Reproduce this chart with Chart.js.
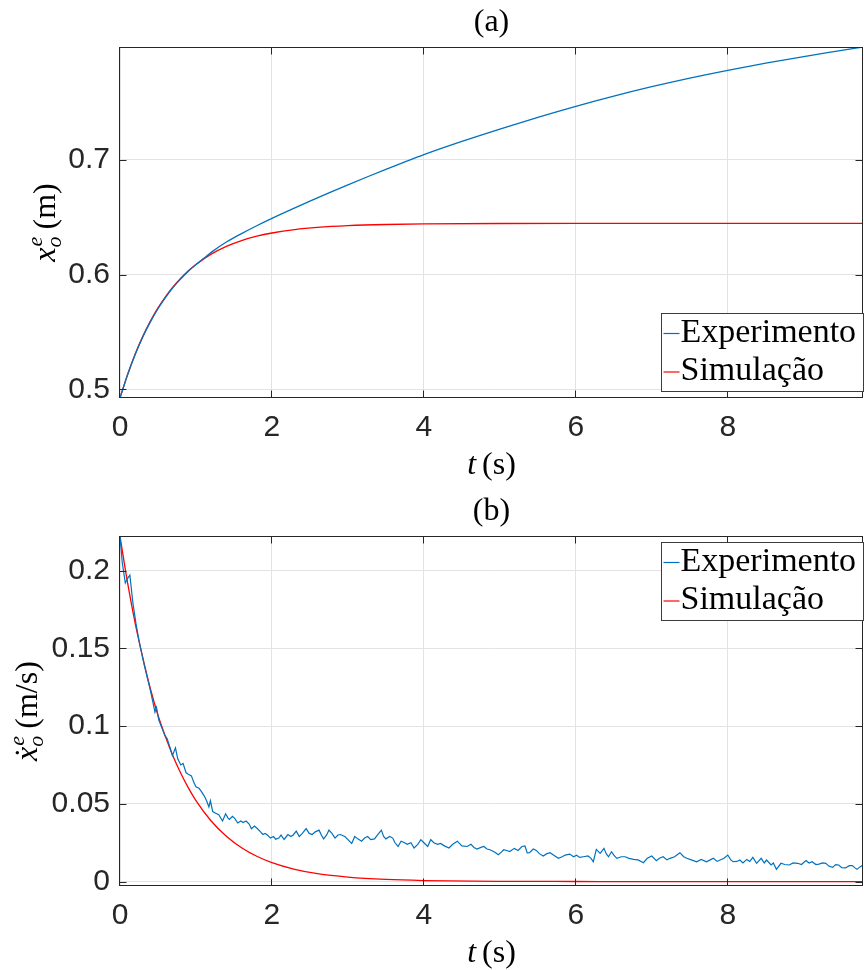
<!DOCTYPE html>
<html>
<head>
<meta charset="utf-8">
<script src="https://cdn.jsdelivr.net/npm/chart.js@4.4.1/dist/chart.umd.min.js"></script>
<style>
  html, body { margin: 0; padding: 0; background: #fff; }
  canvas { display: block; }
</style>
</head>
<body>
<canvas id="posChart" width="864" height="485"></canvas>
<canvas id="velChart" width="864" height="485"></canvas>
<script>
// ---- data ----
const seriesNames = ['Experimento', 'Simulação'];

// (a) position
const posTimeExp = [0, 0.1, 0.2, 0.3, 0.4, 0.5, 0.6, 0.7, 0.8, 0.9, 1.0, 1.1, 1.2, 1.4, 1.6, 1.8, 2.0, 2.25, 2.5, 2.75,
  3.0, 3.25, 3.5, 3.75, 4.0, 4.5, 5.0, 5.5, 6.0, 6.5, 7.0, 7.5, 8.0, 8.5, 9.0, 9.5, 9.78];
const posExp = [0.4924, 0.5127, 0.5303, 0.5456, 0.5587, 0.5702, 0.5801, 0.5888, 0.5962, 0.6029, 0.6087, 0.6140, 0.6193,
  0.6283, 0.6357, 0.6425, 0.6489, 0.6565, 0.6639, 0.6711, 0.6781, 0.6850, 0.6917, 0.6982, 0.7045, 0.7160, 0.7268,
  0.7370, 0.7466, 0.7555, 0.7637, 0.7712, 0.7780, 0.7843, 0.7900, 0.7953, 0.7983];

const simTime = [0, 0.1, 0.2, 0.3, 0.4, 0.5, 0.6, 0.7, 0.8, 0.9, 1.0, 1.2, 1.4, 1.6, 1.8, 2.0, 2.3, 2.6, 3.0, 3.5,
  4.0, 5.0, 6.0, 7.0, 8.0, 9.0, 9.78];
const posSim = [0.4924, 0.5129, 0.5308, 0.5461, 0.5594, 0.5709, 0.5808, 0.5894, 0.5968, 0.6033, 0.6088, 0.6178, 0.6246,
  0.6296, 0.6334, 0.6362, 0.6392, 0.6411, 0.6426, 0.6436, 0.6441, 0.6445, 0.6446, 0.6446, 0.6446, 0.6446, 0.6446];

// (b) velocity
const velTimeExp = [0.00, 0.03, 0.07, 0.10, 0.13, 0.17, 0.21, 0.25, 0.28, 0.32, 0.36, 0.40, 0.43, 0.46, 0.48, 0.51,
  0.55, 0.59, 0.62, 0.66, 0.69, 0.73, 0.76, 0.80, 0.83, 0.87, 0.90, 0.94, 0.97, 1.00, 1.04, 1.07, 1.11, 1.14, 1.17,
  1.19, 1.22, 1.26, 1.30, 1.35, 1.39, 1.42, 1.44, 1.48, 1.51, 1.55, 1.59, 1.62, 1.66, 1.70, 1.73, 1.77, 1.81, 1.85,
  1.88, 1.91, 1.94, 1.98, 2.02, 2.05, 2.09, 2.12, 2.16, 2.21, 2.25, 2.28, 2.32, 2.36, 2.40, 2.45, 2.49, 2.53, 2.57,
  2.62, 2.65, 2.68, 2.72, 2.75, 2.79, 2.83, 2.87, 2.90, 2.96, 3.00, 3.05, 3.09, 3.13, 3.18, 3.22, 3.26, 3.30, 3.35,
  3.39, 3.44, 3.47, 3.50, 3.55, 3.59, 3.62, 3.66, 3.70, 3.74, 3.78, 3.83, 3.87, 3.92, 3.96, 4.00, 4.05, 4.09, 4.13,
  4.18, 4.22, 4.27, 4.33, 4.38, 4.44, 4.50, 4.57, 4.62, 4.66, 4.70, 4.75, 4.79, 4.83, 4.87, 4.93, 4.98, 5.02, 5.05,
  5.09, 5.13, 5.19, 5.24, 5.29, 5.33, 5.36, 5.39, 5.44, 5.48, 5.52, 5.57, 5.62, 5.66, 5.71, 5.77, 5.82, 5.86, 5.92,
  5.97, 6.01, 6.05, 6.10, 6.16, 6.20, 6.23, 6.27, 6.32, 6.37, 6.40, 6.43, 6.47, 6.50, 6.54, 6.60, 6.65, 6.70, 6.76,
  6.82, 6.89, 6.94, 7.00, 7.06, 7.10, 7.15, 7.20, 7.24, 7.30, 7.37, 7.42, 7.46, 7.52, 7.59, 7.65, 7.72, 7.77, 7.81,
  7.86, 7.90, 7.95, 8.00, 8.04, 8.07, 8.12, 8.16, 8.20, 8.25, 8.29, 8.33, 8.38, 8.44, 8.48, 8.51, 8.57, 8.60, 8.64,
  8.70, 8.75, 8.81, 8.86, 8.92, 8.97, 9.03, 9.07, 9.11, 9.16, 9.20, 9.25, 9.29, 9.33, 9.38, 9.42, 9.46, 9.50, 9.55,
  9.60, 9.64, 9.67, 9.70, 9.74, 9.78];
const velExp = [0.222, 0.205, 0.192, 0.195, 0.197, 0.179, 0.166, 0.155, 0.148, 0.139, 0.131, 0.123, 0.116, 0.109, 0.112, 0.104,
  0.099, 0.094, 0.092, 0.086, 0.081, 0.086, 0.079, 0.075, 0.076, 0.070, 0.069, 0.068, 0.064, 0.061, 0.060, 0.058, 0.055, 0.052, 0.048,
  0.052, 0.045, 0.044, 0.043, 0.039, 0.0436, 0.041, 0.040, 0.042, 0.0407, 0.0377, 0.039, 0.038, 0.039, 0.037, 0.034, 0.0357, 0.034, 0.032,
  0.0303, 0.031, 0.030, 0.028, 0.029, 0.0273, 0.028, 0.0299, 0.0271, 0.0303, 0.029, 0.030, 0.0325, 0.029, 0.031, 0.0341, 0.031, 0.0303, 0.032,
  0.0331, 0.030, 0.0275, 0.030, 0.0331, 0.031, 0.028, 0.030, 0.0303, 0.029, 0.027, 0.0246, 0.029, 0.0275, 0.026, 0.028, 0.029, 0.027, 0.0275,
  0.030, 0.0331, 0.029, 0.0275, 0.029, 0.028, 0.025, 0.0226, 0.026, 0.0252, 0.024, 0.025, 0.0216, 0.024, 0.027, 0.025, 0.0226, 0.027, 0.025,
  0.024, 0.0246, 0.023, 0.0216, 0.024, 0.026, 0.023, 0.0226, 0.024, 0.022, 0.021, 0.022, 0.0226, 0.021, 0.0205, 0.019, 0.0173, 0.019, 0.0205,
  0.020, 0.0194, 0.0214, 0.020, 0.0226, 0.0229, 0.0185, 0.0186, 0.021, 0.0201, 0.018, 0.0165, 0.018, 0.0186, 0.017, 0.0150, 0.016, 0.0171, 0.0177,
  0.016, 0.017, 0.0156, 0.016, 0.0165, 0.015, 0.0128, 0.0207, 0.0182, 0.0214, 0.018, 0.0160, 0.0192, 0.017, 0.015, 0.016, 0.0160, 0.015, 0.0143,
  0.014, 0.0122, 0.015, 0.0165, 0.0135, 0.015, 0.0160, 0.014, 0.015, 0.016, 0.0186, 0.016, 0.015, 0.014, 0.0128, 0.0143, 0.0128, 0.014, 0.0150,
  0.013, 0.0139, 0.015, 0.0171, 0.014, 0.0128, 0.013, 0.0139, 0.012, 0.0143, 0.013, 0.0156, 0.0118, 0.0150, 0.012, 0.0139, 0.0107, 0.012, 0.0079,
  0.0118, 0.011, 0.0107, 0.012, 0.0118, 0.011, 0.0135, 0.012, 0.0128, 0.011, 0.0113, 0.012, 0.0118, 0.010, 0.0092, 0.011, 0.0107, 0.009, 0.0088,
  0.0103, 0.0103, 0.0090, 0.0079, 0.0095, 0.0107];
const velSim = [0.222, 0.192, 0.166, 0.144, 0.124, 0.107, 0.093, 0.0805, 0.0697, 0.0603, 0.0521, 0.0390, 0.0292, 0.0218,
  0.0163, 0.0122, 0.0079, 0.0051, 0.0029, 0.0014, 0.0007, 0.0002, 0.0001, 0, 0, 0, 0];

// ticks
const timeTicks = [0, 2, 4, 6, 8];
const timeTickLabels = ['0', '2', '4', '6', '8'];
const posTicks = [0.5, 0.6, 0.7];
const posTickLabels = ['0.5', '0.6', '0.7'];
const velTicks = [0, 0.05, 0.1, 0.15, 0.2];
const velTickLabels = ['0', '0.05', '0.1', '0.15', '0.2'];

const BLUE = '#0072BD';
const RED = '#FF0000';
const AXIS = '#262626';
const SERIF = '"Liberation Serif", "Times New Roman", serif';

function pts(xs, ys) {
  return xs.map((x, i) => ({ x: x, y: ys[i] }));
}

// draws the y label  x_o^e (unit), rotated
function drawYLabel(ctx, a, baseX, dotted, unit) {
  const big = '32px ' + SERIF, bigIt = 'italic 32px ' + SERIF, small = 'italic 22px ' + SERIF;
  ctx.font = bigIt; const wx = ctx.measureText('x').width;
  ctx.font = small; const ws = Math.max(ctx.measureText('e').width, ctx.measureText('o').width);
  ctx.font = big; const wu = ctx.measureText(unit).width;
  const gap = 7;
  const total = wx + ws + gap + wu;
  ctx.save();
  ctx.translate(baseX, (a.top + a.bottom) / 2);
  ctx.rotate(-Math.PI / 2);
  ctx.fillStyle = '#000';
  ctx.textBaseline = 'alphabetic';
  ctx.textAlign = 'left';
  const s = -total / 2;
  ctx.font = bigIt; ctx.fillText('x', s, 0);
  if (dotted) {
    ctx.font = big; ctx.textAlign = 'center';
    ctx.fillText('\u02D9', s + wx / 2 + 1, 0);
    ctx.textAlign = 'left';
  }
  ctx.font = small;
  ctx.fillText('e', s + wx + 1, -13);
  ctx.fillText('o', s + wx, 6);
  ctx.font = big; ctx.fillText(unit, s + wx + ws + gap, 0);
  ctx.restore();
}

// MATLAB-like box, inward ticks, titles and the in-axes legend
const matlabFrame = {
  id: 'matlabFrame',
  afterDraw(chart, args, o) {
    const ctx = chart.ctx, a = chart.chartArea;
    const xs = chart.scales.x, ys = chart.scales.y;
    const L = a.left - 0.5, R = a.right - 0.5, T = a.top + 0.5, B = a.bottom - 0.5;
    const tl = 7;
    ctx.save();
    ctx.strokeStyle = AXIS;
    ctx.lineWidth = 1;
    ctx.beginPath();
    xs.ticks.forEach(t => {
      const px = Math.round(xs.getPixelForValue(t.value)) - 0.5;
      ctx.moveTo(px, B); ctx.lineTo(px, B - tl);
      ctx.moveTo(px, T); ctx.lineTo(px, T + tl);
    });
    ys.ticks.forEach(t => {
      const py = Math.round(ys.getPixelForValue(t.value)) + 0.5;
      ctx.moveTo(L, py); ctx.lineTo(L + tl, py);
      ctx.moveTo(R, py); ctx.lineTo(R - tl, py);
    });
    ctx.stroke();
    ctx.strokeRect(L, T, R - L, B - T);

    // title and x label
    const cx = (a.left + a.right) / 2;
    ctx.fillStyle = '#000';
    ctx.textBaseline = 'alphabetic';
    ctx.textAlign = 'center';
    ctx.font = '32px ' + SERIF;
    ctx.fillText(o.title, cx, a.top - 16);

    ctx.textAlign = 'left';
    ctx.font = 'italic 32px ' + SERIF;
    const wt = ctx.measureText('t').width;
    ctx.font = '32px ' + SERIF;
    const wu = ctx.measureText('(s)').width;
    const x0 = cx - (wt + 6 + wu) / 2;
    ctx.font = 'italic 32px ' + SERIF;
    ctx.fillText('t', x0, a.bottom + 76);
    ctx.font = '32px ' + SERIF;
    ctx.fillText('(s)', x0 + wt + 6, a.bottom + 76);

    drawYLabel(ctx, a, o.yLabelX, o.dotted, o.unit);

    // legend
    const lw = 202, lh = 78;
    const lx = Math.round(a.right - lw) + 0.5;
    const ly = o.legendTop ? Math.round(a.top + 6) + 0.5 : Math.round(a.bottom - 7 - lh) + 0.5;
    ctx.fillStyle = '#fff';
    ctx.fillRect(lx, ly, lw, lh);
    ctx.strokeStyle = '#3c3c3c';
    ctx.strokeRect(lx, ly, lw, lh);
    const colors = [BLUE, RED];
    ctx.font = '34px ' + SERIF;
    seriesNames.forEach((name, i) => {
      const base = ly + 28 + i * 38.5;
      ctx.strokeStyle = colors[i];
      ctx.lineWidth = 1.2;
      ctx.beginPath();
      ctx.moveTo(lx + 2, base - 8);
      ctx.lineTo(lx + 18, base - 8);
      ctx.stroke();
      ctx.fillStyle = '#000';
      ctx.fillText(name, lx + 19, base);
    });
    ctx.restore();
  }
};

function makeOptions(yMin, yMax, yTicks, yLabels, padTop, xHeight, frameOpts) {
  return {
    responsive: false,
    devicePixelRatio: 1,
    animation: false,
    layout: { padding: { top: padTop, right: 1, left: 0, bottom: 0 } },
    elements: { point: { radius: 0 } },
    plugins: {
      legend: { display: false },
      tooltip: { enabled: false },
      matlabFrame: frameOpts
    },
    scales: {
      x: {
        type: 'linear',
        min: 0,
        max: 9.78,
        afterBuildTicks: s => { s.ticks = timeTicks.map(v => ({ value: v })); },
        afterFit: s => { s.height = xHeight; },
        grid: { color: '#e3e3e3', drawTicks: false },
        border: { display: false },
        ticks: {
          autoSkip: false, maxRotation: 0, padding: 12, color: AXIS,
          font: { family: 'Liberation Sans', size: 30 },
          callback: (v, i) => timeTickLabels[i]
        }
      },
      y: {
        type: 'linear',
        min: yMin,
        max: yMax,
        afterBuildTicks: s => { s.ticks = yTicks.map(v => ({ value: v })); },
        afterFit: s => { s.width = 120; },
        grid: { color: '#e3e3e3', drawTicks: false },
        border: { display: false },
        ticks: {
          padding: 10, color: AXIS,
          font: { family: 'Liberation Sans', size: 30 },
          callback: (v, i) => yLabels[i]
        }
      }
    }
  };
}

new Chart(document.getElementById('posChart'), {
  type: 'line',
  data: {
    datasets: [
      { label: seriesNames[0], data: pts(posTimeExp, posExp), borderColor: BLUE, borderWidth: 1.3, cubicInterpolationMode: 'monotone' },
      { label: seriesNames[1], data: pts(simTime, posSim), borderColor: RED, borderWidth: 1.3, cubicInterpolationMode: 'monotone' }
    ]
  },
  options: makeOptions(0.4924, 0.7983, posTicks, posTickLabels, 47, 87,
    { title: '(a)', unit: '(m)', yLabelX: 55, dotted: false, legendTop: false }),
  plugins: [matlabFrame]
});

new Chart(document.getElementById('velChart'), {
  type: 'line',
  data: {
    datasets: [
      { label: seriesNames[0], data: pts(velTimeExp, velExp), borderColor: BLUE, borderWidth: 1.2, tension: 0 },
      { label: seriesNames[1], data: pts(simTime, velSim), borderColor: RED, borderWidth: 1.3, cubicInterpolationMode: 'monotone' }
    ]
  },
  options: makeOptions(-0.0028, 0.2222, velTicks, velTickLabels, 51, 84,
    { title: '(b)', unit: '(m/s)', yLabelX: 37, dotted: true, legendTop: true }),
  plugins: [matlabFrame]
});
</script>
</body>
</html>
